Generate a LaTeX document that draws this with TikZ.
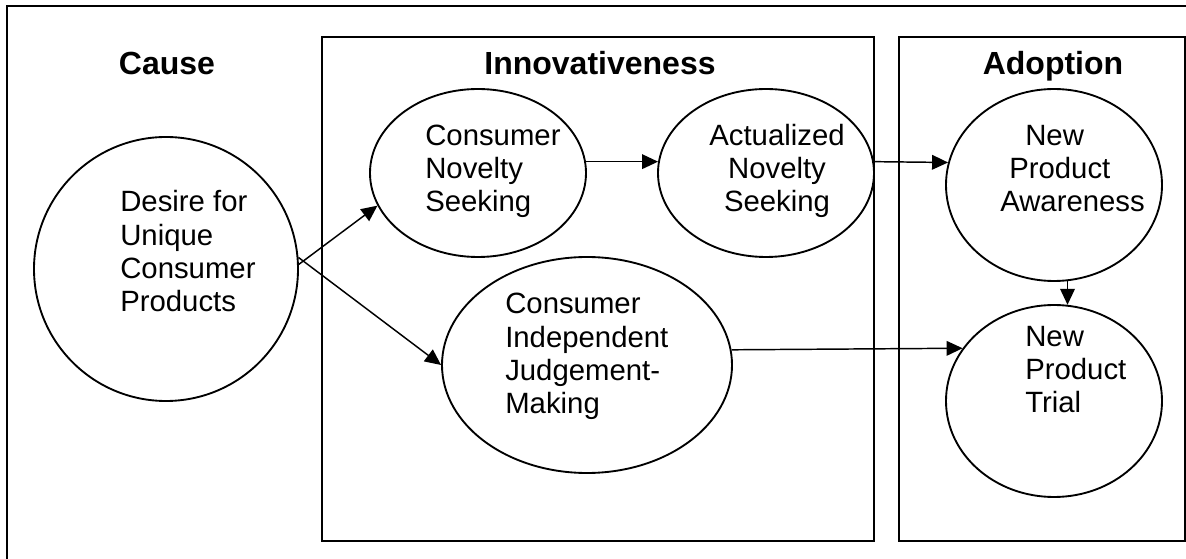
\documentclass[tikz,border=0pt]{standalone}
\usepackage{fontspec}
\setmainfont{Liberation Sans}
\usetikzlibrary{shapes.geometric,arrows.meta}
\begin{document}
\begin{tikzpicture}[x=0.75pt,y=-0.75pt,
  oval/.style={draw,ellipse,line width=1.4pt,inner sep=0pt},
  txt/.style={inner sep=0pt,font=\fontsize{22}{25}\selectfont},
  ttl/.style={inner sep=0pt,anchor=base,font=\fontsize{24}{28}\selectfont\bfseries},
  panel/.style={draw,line width=1.2pt},
  link/.style={line width=1.1pt,-{Triangle[length=12pt,width=11pt]}}]
\clip (0,0) rectangle (1186,559);
\fill[white] (0,0) rectangle (1186,559);
% frames
\draw[line width=1.6pt] (7,6) rectangle (1220,600);
\draw[panel] (322,37) rectangle (874,541);
\draw[panel] (899,37) rectangle (1185,541);
% titles
\node[ttl] (tcause) at (167,75) {Cause};
\node[ttl] (tinnov) at (600,75) {Innovativeness};
\node[ttl] (tadopt) at (1053,75) {Adoption};
% shapes
\node[oval,minimum width=264*0.75pt,minimum height=264*0.75pt] (desire) at (166,269) {};
\node[oval,minimum width=216*0.75pt,minimum height=168*0.75pt] (cns) at (478,173) {};
\node[oval,minimum width=216*0.75pt,minimum height=168*0.75pt] (ans) at (766,173) {};
\node[oval,minimum width=290*0.75pt,minimum height=216*0.75pt] (cij) at (587,365) {};
\node[oval,minimum width=216*0.75pt,minimum height=192*0.75pt] (npa) at (1054,185) {};
\node[oval,minimum width=216*0.75pt,minimum height=192*0.75pt] (npt) at (1054,401) {};
% texts (base anchor = baseline of last line)
\node[txt,anchor=base west,align=left] (desireT) at (120,312) {Desire for\\Unique\\Consumer\\Products};
\node[txt,anchor=base west,align=left] (cnsT) at (425,212) {Consumer\\Novelty\\Seeking};
\node[txt,anchor=base,align=center] (ansT) at (777,212) {Actualized\\Novelty\\Seeking};
\node[txt,anchor=base west,align=left] (cijT) at (505,414) {Consumer\\Independent\\Judgement-\\Making};
\node[txt,anchor=base west,align=left] (npaT) at (1000,212) {\hspace*{18.75pt}New\\\hspace*{6.75pt}Product\\Awareness};
\node[txt,anchor=base west,align=left] (nptT) at (1025,413) {New\\Product\\Trial};
% connectors
\draw[link] (desire.2) -- (cns.198);
\draw[link] (desire.5) -- (cij.west);
\draw[link] (cns.6) -- (ans.174);
\draw[link] (ans.6) -- (npa.168);
\draw[link] (npa.278) -- (npt.82);
\draw[link] (cij.6) -- (npt.150);
\end{tikzpicture}
\end{document}
